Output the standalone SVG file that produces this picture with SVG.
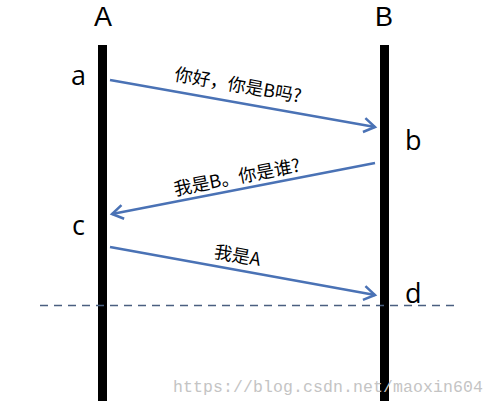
<svg xmlns="http://www.w3.org/2000/svg" width="495" height="406" viewBox="0 0 495 406">
<style>
.bar{fill:#000}
.lbl{font-family:"Open Sans","Liberation Sans",sans-serif;font-size:27px;fill:#000}
.top{font-family:"Liberation Sans",sans-serif;font-size:27px;fill:#000;text-anchor:middle}
.msg{stroke:#4a72b5;stroke-width:2.5;fill:none}
.mtxt{font-family:"Noto Sans CJK SC","Noto Sans",sans-serif;font-size:18px;fill:#000;text-anchor:middle}
</style>
<defs>
<marker id="ah" markerUnits="userSpaceOnUse" markerWidth="20" markerHeight="20" refX="14" refY="10" orient="auto" viewBox="0 0 20 20">
<path d="M3,3 L14,10 L3,17" fill="none" stroke="#4a72b5" stroke-width="2.5" stroke-linejoin="miter"/>
</marker>
</defs>
<rect width="495" height="406" fill="#fff"/>
<g id="lifeline-A">
<rect class="bar" x="98" y="45" width="9" height="356"/>
<text class="top" x="103" y="26">A</text>
</g>
<g id="lifeline-B">
<rect class="bar" x="380" y="45" width="9" height="356"/>
<text class="top" x="384" y="26">B</text>
</g>
<g id="points">
<text class="lbl" x="71" y="85">a</text>
<text class="lbl" x="405" y="150">b</text>
<text class="lbl" x="72" y="235">c</text>
<text class="lbl" x="405" y="303">d</text>
</g>
<g id="connectors">
<line class="msg" x1="110" y1="80" x2="375" y2="127" marker-end="url(#ah)"/>
<line class="msg" x1="375" y1="163" x2="112" y2="214" marker-end="url(#ah)"/>
<line class="msg" x1="110" y1="247" x2="375" y2="295" marker-end="url(#ah)"/>
<line x1="40" y1="305.5" x2="455" y2="305.5" stroke="#4a5f80" stroke-width="1.5" stroke-dasharray="8 6"/>
</g>
<g id="labels">
<text class="mtxt" transform="translate(238,85) rotate(10)" y="6.5">你好，你是B吗?</text>
<text class="mtxt" transform="translate(237,177) rotate(-11)" y="6.5">我是B。你是谁?</text>
<text class="mtxt" transform="translate(237.5,255.5) rotate(10.2)" y="6.5">我是A</text>
</g>
<text x="173" y="392" font-family="Liberation Mono,monospace" font-size="16.5" fill="#c4c4c4" textLength="310">https://blog.csdn.net/maoxin604</text>
</svg>
